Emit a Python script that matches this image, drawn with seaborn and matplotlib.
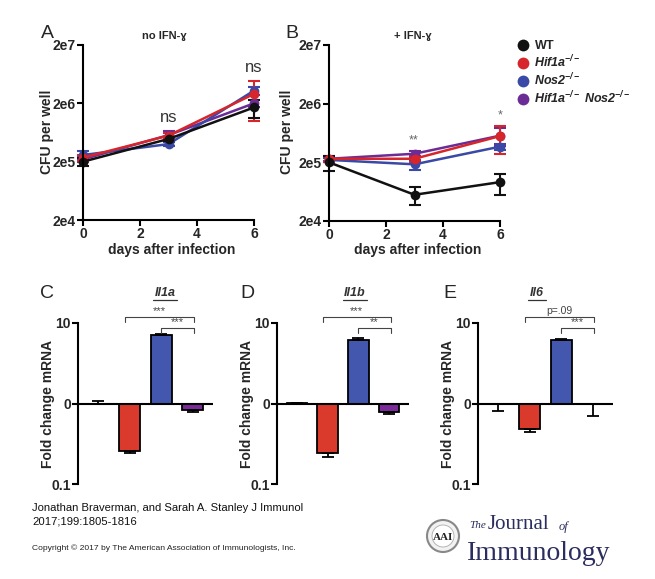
import numpy as np
import pandas as pd
import matplotlib
matplotlib.use('Agg')
import matplotlib.pyplot as plt
import seaborn as sns
from matplotlib.lines import Line2D
from matplotlib.patches import Ellipse
from matplotlib.ticker import NullLocator

# ---------------- data ----------------
days = [0, 3, 6]
genotypes = ['WT', 'Hif1a', 'Nos2', 'Hif1a Nos2']
line_colors = ['#111111', '#d7262b', '#3a49a5', '#6c2c95']

# Panel A: no IFN-gamma (CFU per well)
cfu_a_wt = [2.0e5, 4.9e5, 1.7e6]
cfu_a_hif = [2.35e5, 5.6e5, 2.9e6]
cfu_a_nos = [2.6e5, 4.0e5, 3.3e6]
cfu_a_dko = [2.2e5, 5.7e5, 2.0e6]
err_a_wt = [0.3e5, 0.4e5, 0.6e6]
err_a_hif = [0.3e5, 0.6e5, 1.9e6]
err_a_nos = [0.5e5, 0.3e5, 0.5e6]
err_a_dko = [0.2e5, 1.1e5, 0.3e6]

# Panel B: + IFN-gamma
cfu_b_wt = [2.0e5, 5.6e4, 9.2e4]
cfu_b_hif = [2.3e5, 2.3e5, 5.6e5]
cfu_b_nos = [2.2e5, 1.85e5, 3.7e5]
cfu_b_dko = [2.3e5, 2.8e5, 5.7e5]
err_b_wt = [0.6e5, 1.85e4, 3.6e4]
err_b_hif = [0.3e5, 0.3e5, 2.85e5]
err_b_nos = [0.2e5, 0.35e5, 0.4e5]
err_b_dko = [0.2e5, 0.3e5, 1.9e5]

y_ticks_cfu = [2e4, 2e5, 2e6, 2e7]
y_ticklabels_cfu = ['2e4', '2e5', '2e6', '2e7']

# Panels C-E: fold change mRNA
bar_colors = ['#ffffff', '#d93a2b', '#4357ae', '#7b2a99']
fc_il1a = [1.0, 0.26, 7.0, 0.84]
fc_il1a_err = [0.07, 0.017, 0.35, 0.05]
fc_il1b = [1.01, 0.243, 6.08, 0.78]
fc_il1b_err = [0.01, 0.026, 0.42, 0.03]
fc_il6 = [0.99, 0.48, 6.2, 0.99]
fc_il6_err = [0.18, 0.04, 0.2, 0.29]
fc_ticks = [0.1, 1, 10]
fc_ticklabels = ['0.1', '0', '10']

# ---------------- style ----------------
sns.set_style('ticks')
plt.rcParams['font.family'] = ['Liberation Sans', 'DejaVu Sans']
plt.rcParams.update({
    'mathtext.fontset': 'custom',
    'mathtext.rm': 'Liberation Sans',
    'mathtext.it': 'Liberation Sans:italic',
    'mathtext.bf': 'Liberation Sans:bold',
    'mathtext.bfit': 'Liberation Sans:bold:italic',
})

W, H = 655, 579
fig = plt.figure(figsize=(W / 100, H / 100), dpi=100)
fig.patch.set_facecolor('white')


def rect(x0, y0, x1, y1):
    return [x0 / W, 1 - y1 / H, (x1 - x0) / W, (y1 - y0) / H]


def ftext(x, y, s, **kw):
    return fig.text(x / W, 1 - y / H, s, **kw)


def style_axis(ax):
    for s in ['top', 'right']:
        ax.spines[s].set_visible(False)
    for s in ['left', 'bottom']:
        ax.spines[s].set_linewidth(1.5)
        ax.spines[s].set_color('black')
    ax.tick_params(axis='both', width=1.5, length=4, color='black',
                   labelsize=10, pad=1)
    for lab in ax.get_xticklabels() + ax.get_yticklabels():
        lab.set_fontweight('bold')


def line_panel(ax, means, errs):
    rows = []
    for g, m in zip(genotypes, means):
        for d, v in zip(days, m):
            rows.append({'day': d, 'cfu': v, 'genotype': g})
    df = pd.DataFrame(rows)
    ax.set_yscale('log')
    order = genotypes[::-1]
    pal = dict(zip(genotypes, line_colors))
    for g, m, e in list(zip(genotypes, means, errs))[::-1]:
        ax.errorbar(days, m, yerr=e, fmt='none', ecolor=pal[g], elinewidth=1.5,
                    capsize=4, capthick=1.5, clip_on=False, zorder=2)
    sns.lineplot(data=df, x='day', y='cfu', hue='genotype', hue_order=order,
                 palette=pal, marker='o', markersize=7, markeredgewidth=0,
                 linewidth=1.8, legend=False, errorbar=None, ax=ax)
    for ln in ax.lines:
        ln.set_clip_on(False)
    ax.set_xlim(0, 6)
    ax.set_ylim(2e4, 2e7)
    ax.set_xticks([0, 2, 4, 6])
    ax.set_yticks(y_ticks_cfu)
    ax.set_yticklabels(y_ticklabels_cfu)
    ax.yaxis.set_minor_locator(NullLocator())
    ax.set_xlabel('')
    ax.set_ylabel('')
    style_axis(ax)


# ---------------- panel A ----------------
axA = fig.add_axes(rect(83, 45, 254, 220))
line_panel(axA, [cfu_a_wt, cfu_a_hif, cfu_a_nos, cfu_a_dko],
           [err_a_wt, err_a_hif, err_a_nos, err_a_dko])
# ---------------- panel B ----------------
axB = fig.add_axes(rect(329, 45, 500, 221))
line_panel(axB, [cfu_b_wt, cfu_b_hif, cfu_b_nos, cfu_b_dko],
           [err_b_wt, err_b_hif, err_b_nos, err_b_dko])

for x in (47, 287):
    ftext(x, 132, 'CFU per well', rotation=90, ha='center', va='center',
          fontsize=10, fontweight='bold')
ftext(172, 250, 'days after infection', ha='center', va='center', fontsize=10, fontweight='bold')
ftext(418, 250, 'days after infection', ha='center', va='center', fontsize=10, fontweight='bold')
ftext(164, 36, 'no IFN-ɣ', ha='center', va='center', fontsize=8, fontweight='bold')
ftext(413, 36, '+ IFN-ɣ', ha='center', va='center', fontsize=8, fontweight='bold')
ftext(47, 34, 'A', ha='center', va='center', fontsize=14)
ftext(292, 34, 'B', ha='center', va='center', fontsize=14)

# significance on line panels
ftext(169, 117, 'ns', ha='center', va='center', fontsize=12, color='#333333')
ftext(254, 67, 'ns', ha='center', va='center', fontsize=12, color='#333333')
ftext(414, 140, '**', ha='center', va='center', fontsize=9, color='#666666')
ftext(500, 115, '*', ha='center', va='center', fontsize=9, color='#666666')

# legend
handles = [Line2D([], [], linestyle='none', marker='o', markersize=8.5,
                  markerfacecolor=c, markeredgewidth=0) for c in line_colors]
labels = [r'$\mathbf{WT}$',
          r'$\mathbfit{Hif1a}^{\mathbfit{-/-}}$',
          r'$\mathbfit{Nos2}^{\mathbfit{-/-}}$',
          r'$\mathbfit{Hif1a}^{\mathbfit{-/-}}\ \mathbfit{Nos2}^{\mathbfit{-/-}}$']
fig.legend(handles, labels, loc='upper left', bbox_to_anchor=(517 / W, 1 - 39 / H),
           frameon=False, fontsize=9, handlelength=0.9, handletextpad=0.45,
           labelspacing=0.12, borderaxespad=0, borderpad=0)


# ---------------- bar panels ----------------
def bar_panel(x0, x1, fc, fce, title, tx, letter, lx, sig_outer, sig_inner):
    ax = fig.add_axes(rect(x0, 323, x1, 484))
    vals = np.log10(fc)
    sns.barplot(x=genotypes, y=vals, hue=genotypes, palette=bar_colors,
                legend=False, width=0.68, edgecolor='black', linewidth=1.3,
                errorbar=None, saturation=1, ax=ax)
    for i, (v, e) in enumerate(zip(fc, fce)):
        if v >= 1:
            lo, hi = 0, np.log10(v + e) - np.log10(v)
        else:
            lo, hi = np.log10(v) - np.log10(v - e), 0
        ax.errorbar(i, np.log10(v), yerr=[[lo], [hi]], fmt='none', ecolor='black',
                    elinewidth=1.3, capsize=4, capthick=1.3, clip_on=False)
    ax.axhline(0, color='black', linewidth=1.5, zorder=5)
    ax.set_xlim(-0.65, 3.65)
    ax.set_ylim(-1, 1)
    ax.set_yticks(np.log10(fc_ticks))
    ax.set_yticklabels(fc_ticklabels)
    ax.set_xticks([])
    ax.set_xlabel('')
    ax.set_ylabel('')
    style_axis(ax)
    ax.spines['bottom'].set_visible(False)
    ax.spines['left'].set_bounds(-1, 1)
    # brackets
    tip = 0.065
    for (xa, xb, yb, s) in [(0.85, 3.05, 1.075, sig_outer), (2.0, 3.05, 0.94, sig_inner)]:
        ax.plot([xa, xa, xb, xb], [yb - tip, yb, yb, yb - tip], color='#444444',
                linewidth=0.8, clip_on=False)
        fs = 7.5 if s.startswith('p') else 8
        ax.text((xa + xb) / 2, yb + 0.01, s, ha='center', va='bottom', fontsize=fs,
                color='#444444')
    ftext(x0 - 30, 404, 'Fold change mRNA', rotation=90, ha='center', va='center',
          fontsize=10, fontweight='bold')
    ftext(tx, 293, title, ha='center', va='center', fontsize=9,
          fontweight='bold', fontstyle='italic', color='#333333')
    w = 6 * len(title)
    fig.add_artist(Line2D([(tx - w / 2) / W, (tx + w / 2) / W], [1 - 300 / H] * 2,
                          color='#333333', linewidth=0.9))
    ftext(lx, 294, letter, ha='center', va='center', fontsize=14)


bar_panel(78, 213, fc_il1a, fc_il1a_err, 'Il1a', 165, 'C', 47, '***', '***')
bar_panel(277, 409, fc_il1b, fc_il1b_err, 'Il1b', 355, 'D', 247, '***', '**')
bar_panel(478, 613, fc_il6, fc_il6_err, 'Il6', 537, 'E', 450, 'p=.09', '***')

# ---------------- footer ----------------
foot = ['Liberation Sans', 'DejaVu Sans']
ftext(32, 508, 'Jonathan Braverman, and Sarah A. Stanley J Immunol', ha='left', va='center',
      fontsize=8.1, family=foot, color='#111111')
ftext(32, 521, '2017;199:1805-1816', ha='left', va='center', fontsize=8.1, family=foot,
      color='#111111')
ftext(32, 548, 'Copyright © 2017 by The American Association of Immunologists, Inc.',
      ha='left', va='center', fontsize=6.1, family=foot, color='#222222')

navy = '#2b2d5e'
fig.add_artist(Ellipse((443 / W, 1 - 536 / H), 32 / W, 32 / H, facecolor='#f2f2f2',
                       edgecolor='#888888', linewidth=1.5))
fig.add_artist(Ellipse((443 / W, 1 - 536 / H), 22 / W, 22 / H, facecolor='white',
                       edgecolor='#aaaaaa', linewidth=0.6))
ftext(443, 537, 'AAI', ha='center', va='center', fontsize=8, family='Liberation Serif',
      fontweight='bold', color='#222222')
serif = ['Liberation Serif', 'DejaVu Serif']
ftext(469, 528, 'The', ha='left', va='baseline', fontsize=8, family=serif,
      fontstyle='italic', color=navy)
ftext(488, 529, 'Journal', ha='left', va='baseline', fontsize=15, family=serif, color=navy)
ftext(559, 530, 'of', ha='left', va='baseline', fontsize=9, family=serif,
      fontstyle='italic', color=navy)
ftext(467, 560, 'Immunology', ha='left', va='baseline', fontsize=20, family=serif, color=navy)

fig.savefig('out.png', dpi=100)
